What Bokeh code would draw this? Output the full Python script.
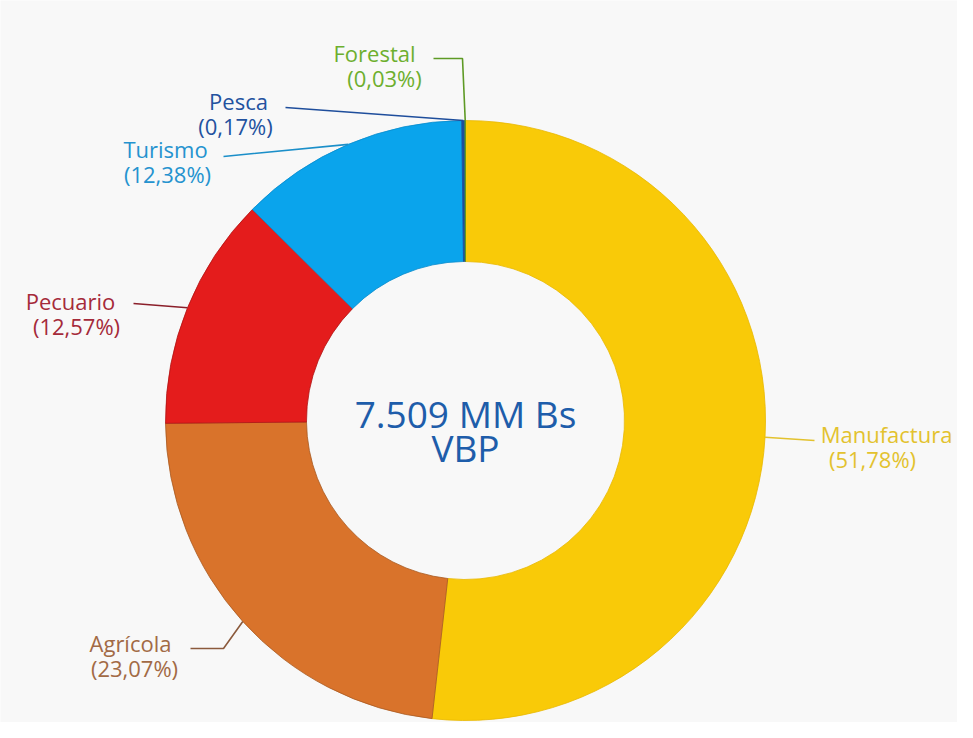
import numpy as np
from bokeh.plotting import figure
from bokeh.models import ColumnDataSource, Range1d
from bokeh.embed import file_html
from bokeh.resources import INLINE
from bokeh.core.properties import value

# ---------------- data ----------------
categories = ["Manufactura", "Agrícola", "Pecuario", "Turismo", "Pesca", "Forestal"]
shares = [51.78, 23.07, 12.57, 12.38, 0.17, 0.03]
pct_labels = ["(51,78%)", "(23,07%)", "(12,57%)", "(12,38%)", "(0,17%)", "(0,03%)"]
center_lines = ["7.509 MM Bs", "VBP"]

# ---------------- styles ----------------
slice_colors = ["#F9CA08", "#D9732B", "#E41C1C", "#0AA4EC", "#1F4E9C", "#5B9B1F"]
edge_colors = ["#E8B800", "#A85A22", "#B01515", "#0A8CCB", "#1F4E9C", "#5B9B1F"]
label_colors = ["#E3C22E", "#A26A45", "#A52A3A", "#2593CF", "#23529F", "#6DAF2E"]
leader_colors = ["#E3C22E", "#8B5A3C", "#8B1F2A", "#1B8FC9", "#1F4E9C", "#5E9A25"]
center_color = "#1E5DAA"
BG = "#F8F8F8"
FONT = "Open Sans"

W, H = 957, 722
def sy(y):  # picture y -> data y
    return H - y

CX, CY = 465, sy(420)
R_OUT, R_IN = 300, 159

# layout of labels (picture coords): name centre x, pct centre x, name baseline y
name_x = [886, 130, 70, 165, 238, 374]
pct_x = [872, 134, 76, 167, 235, 384]
name_base = [433, 642, 300, 148, 100, 52]
# leader elbows and ends (picture coords)
elbow = [(814, 440), (223, 648), (133, 303), (253, 153), (285, 107), (462, 58)]
lend = [(814, 440), (190, 648), (133, 303), (223, 156), (285, 107), (433, 58)]

# ---------------- geometry from data ----------------
frac = np.array(shares) / np.sum(shares)
cum = np.concatenate([[0.0], np.cumsum(frac)])
start = np.pi / 2 - 2 * np.pi * cum[:-1]
end = np.pi / 2 - 2 * np.pi * cum[1:]
mid = (start + end) / 2
ax = CX + R_OUT * np.cos(mid)
ay = CY + R_OUT * np.sin(mid)

src = ColumnDataSource(dict(cat=categories, start=start, end=end,
                            color=slice_colors, edge=edge_colors))

p = figure(width=W, height=H, x_range=Range1d(0, W), y_range=Range1d(0, H),
           output_backend="svg", toolbar_location=None, min_border=0,
           x_axis_type=None, y_axis_type=None,
           background_fill_color=BG, border_fill_color=BG, outline_line_color=None)
p.grid.visible = False

p.annular_wedge(x=CX, y=CY, inner_radius=R_IN, outer_radius=R_OUT,
                start_angle="start", end_angle="end", direction="clock",
                fill_color="color", line_color="edge", line_width=0.8, source=src)

# leader lines
xs, ys = [], []
for i in range(len(categories)):
    xs.append([ax[i], elbow[i][0], lend[i][0]])
    ys.append([ay[i], sy(elbow[i][1]), sy(lend[i][1])])
p.multi_line(xs=xs, ys=ys, line_color=leader_colors, line_width=1.6)

# labels
lsrc = ColumnDataSource(dict(nx=name_x, px=pct_x,
                             ny=[sy(b) for b in name_base],
                             py=[sy(b + 25) for b in name_base],
                             name=categories, pct=pct_labels, color=label_colors))
p.text(x="nx", y="ny", text="name", text_color="color", text_align="center",
       text_baseline="alphabetic", text_font=value(FONT), text_font_size="22px", source=lsrc)
p.text(x="px", y="py", text="pct", text_color="color", text_align="center",
       text_baseline="alphabetic", text_font=value(FONT), text_font_size="22px", source=lsrc)

# centre text
p.text(x=[CX, CX], y=[sy(413), sy(447)], text=center_lines, text_color=center_color,
       text_align="center", text_baseline="alphabetic", text_font=value(FONT),
       text_font_size="37px")

open("out.html", "w").write(file_html(p, INLINE))
